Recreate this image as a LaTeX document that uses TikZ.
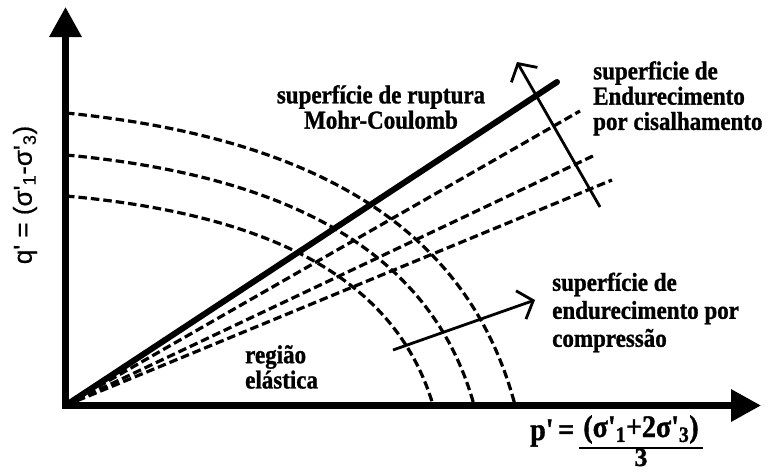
\documentclass[tikz,border=0pt]{standalone}
\usepackage{fontspec}
\usepackage{graphicx}
\setmainfont{Liberation Serif}[BoldFeatures={FakeBold=1.2}]
\newfontfamily\arialf{Liberation Sans}[FakeBold=0.6]
\usetikzlibrary{arrows.meta}
\newcommand\vsl[2][l]{\scalebox{1}[1.12]{\begin{tabular}{@{}#1@{}}#2\end{tabular}}}
\begin{document}
\begin{tikzpicture}[x=1pt,y=-1pt,
  axis/.style={line width=6.5pt, line join=miter,
    {Triangle[width=31pt,length=30pt]}-{Triangle[width=31pt,length=30pt]}},
  mc/.style={line width=6pt, line cap=round},
  dl/.style={line width=3.2pt, dash pattern=on 8.5pt off 4pt},
  arr/.style={line width=2.8pt, -{Straight Barb[length=13pt,width=30pt,line width=2.8pt]}},
  lbl/.style={font=\fontsize{23}{22}\selectfont\bfseries, inner sep=0pt},
  xl/.style={font=\fontsize{28}{32}\selectfont\bfseries, inner sep=0pt},
  ]
\useasboundingbox (0,0) rectangle (771,472);
\coordinate (O) at (65.5,405.5);
\coordinate (ytip) at (65.5,7);
\coordinate (xtip) at (761,405.5);
% cone lines
\coordinate (mcend) at (557,82);
\coordinate (c1) at (580,111);
\coordinate (c2) at (595,155);
\coordinate (c3) at (612,180);
\draw[dl] (O) -- (c1);
\draw[dl] (O) -- (c2);
\draw[dl] (O) -- (c3);
% caps
\coordinate (a1) at (66,113); \coordinate (b1) at (515,405);
\coordinate (a2) at (66,155); \coordinate (b2) at (474,405);
\coordinate (a3) at (66,196); \coordinate (b3) at (433,405);
\draw[dl] (a1) .. controls (326,139) and (470,235) .. (b1);
\draw[dl] (a2) .. controls (302,177) and (434,260) .. (b2);
\draw[dl] (a3) .. controls (278,215) and (397,283) .. (b3);
% Mohr-Coulomb
\draw[mc] (O) -- (mcend);
% axes
\draw[axis] (ytip) -- (O) -- (xtip);
% arrows
\coordinate (s0) at (600,207); \coordinate (s1) at (517,62);
\draw[arr] (s0) -- (s1);
\coordinate (p0) at (393,350); \coordinate (p1) at (535,300);
\draw[arr] (p0) -- (p1);
% labels
\node[lbl, anchor=north] (tA) at (381,85) {\vsl[c]{superfície de ruptura\\Mohr-Coulomb}};
\node[lbl, anchor=north west] (tB) at (593,61) {\vsl{superficie de\\Endurecimento\\por cisalhamento}};
\node[lbl, font=\fontsize{23}{25}\selectfont\bfseries, anchor=north west] (tC) at (552,271) {\vsl{superfície de\\endurecimento por\\compressão}};
\node[lbl, anchor=north west] (tD) at (245,345) {\vsl{região\\elástica}};
% y label
\node[rotate=90, inner sep=0pt, font=\arialf\fontsize{26}{30}\selectfont] (qlab) at (25,195) {q\textquotesingle\ = (σ\textquotesingle\textsubscript{1}-σ\textquotesingle\textsubscript{3})};
% x label
\node[xl, anchor=base west] (plab) at (530,440) {\scalebox{1}[1.12]{p\textquotesingle\,=}};
\node[xl, anchor=base] (num) at (641,437) {\scalebox{1}[1.12]{(σ\textquotesingle\textsubscript{1}+2σ\textquotesingle\textsubscript{3})}};
\coordinate (fb1) at (579,448); \coordinate (fb2) at (703,448);
\draw[line width=2.8pt] (fb1) -- (fb2);
\node[xl, font=\fontsize{26}{30}\selectfont\bfseries, anchor=base] (den) at (641,466) {3};
\end{tikzpicture}
\end{document}
